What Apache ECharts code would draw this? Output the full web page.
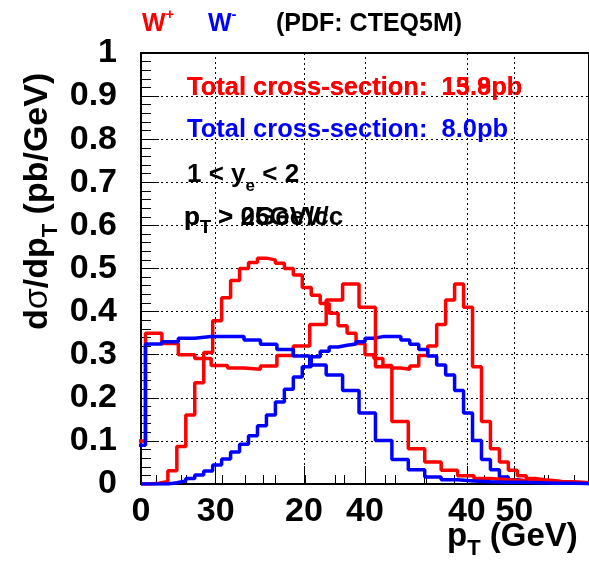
<!DOCTYPE html>
<html>
<head>
<meta charset="utf-8">
<script src="https://cdn.jsdelivr.net/npm/echarts@6/dist/echarts.min.js"></script>
<style>
html,body{margin:0;padding:0;background:#fff;}
#chart{width:589px;height:571px;}
</style>
</head>
<body>
<div id="chart"></div>
<script>
// Histogram: 50 bins of 1.1 GeV covering 0..55 GeV (lepton pT)
const binWidth = 1.1;
// W+ (red) dσ/dpT per bin, full pT range (pad with 0..55 axis)
const wPlus = [0, 0.002, 0.006, 0.031, 0.087, 0.160, 0.235, 0.305, 0.379, 0.432,
  0.472, 0.500, 0.514, 0.524, 0.520, 0.512, 0.500, 0.485, 0.456, 0.438,
  0.419, 0.396, 0.367, 0.350, 0.326, 0.300, 0.291, 0.275, 0.269, 0.266,
  0.274, 0.298, 0.320, 0.370, 0.427, 0.464, 0.410, 0.272, 0.145, 0.082,
  0.051, 0.032, 0.019, 0.013, 0.010, 0.008, 0.006, 0.005, 0.004, 0.003];
// W- (blue)
const wMinus = [0, 0, 0, 0.003, 0.007, 0.013, 0.021, 0.030, 0.044, 0.058,
  0.074, 0.092, 0.112, 0.135, 0.160, 0.190, 0.220, 0.248, 0.272, 0.295,
  0.308, 0.318, 0.322, 0.325, 0.330, 0.338, 0.342, 0.342, 0.342, 0.334,
  0.324, 0.312, 0.297, 0.276, 0.253, 0.217, 0.165, 0.101, 0.057, 0.033,
  0.016, 0.010, 0.007, 0.005, 0.004, 0.004, 0.003, 0.002, 0.002, 0.001];
// pT > 25 GeV version (second pad, axis 25..55): first bin only partially above the cut
const cutFirstBin = 22;
const cutBinWPlus = 0.10;
const cutBinWMinus = 0.09;

// axis tick values
const pad1Range = [0, 55];
const pad1Interval = 20;
const pad1MinorTicks = [5, 10, 15, 25, 30, 35, 45, 50];
const pad2Range = [25, 55];
const pad2MajorTicks = [30, 40, 50];
const pad2MinorTicks = [26, 28, 32, 34, 36, 38, 42, 44, 46, 48, 52, 54];
const yRange = [0, 1];
const yInterval = 0.1;

const RED = '#ff0000', BLUE = '#0000ff', BLACK = '#000000';
const FONT = '"Liberation Sans", Arial, Helvetica, sans-serif';

function stepPoints(vals, firstBin, firstVal) {
  const pts = [];
  for (let k = firstBin; k < vals.length; k++) {
    const v = (k === firstBin && firstVal !== undefined) ? firstVal : vals[k];
    const lo = +(k * binWidth).toFixed(4), hi = +((k + 1) * binWidth).toFixed(4);
    pts.push([lo, v], [hi, v]);
  }
  return pts;
}

// rich text helper (graphic texts with sub/superscripts)
const mctx = document.createElement('canvas').getContext('2d');
function runs(x, y, parts, rotation, z) {
  let cx = 0;
  const children = [];
  parts.forEach(p => {
    const font = (p.w || 'bold') + ' ' + p.s + 'px ' + (p.f || FONT);
    mctx.font = font;
    const wdt = mctx.measureText(p.t).width;
    children.push({
      type: 'text', x: cx, y: (p.dy || 0) - 0.35 * p.s,
      style: { text: p.t, font: font, fill: p.c || BLACK, align: 'left', verticalAlign: 'middle' }
    });
    cx += wdt + (p.gap || 0);
  });
  return { type: 'group', x: x, y: y, rotation: rotation || 0, z: z || 100, children: children };
}

const dotted = { color: BLACK, type: [2, 3], width: 1 };
const labelFont = { fontSize: 34, fontWeight: 'bold', fontFamily: FONT, color: BLACK };

const chart = echarts.init(document.getElementById('chart'), null, { renderer: 'canvas' });

const option = {
  animation: false,
  backgroundColor: '#ffffff',
  grid: { left: 141, top: 53, right: -1, bottom: 87, show: true, borderColor: BLACK, borderWidth: 2, backgroundColor: 'transparent' },
  xAxis: [
    { // pad 1 (0..55)
      type: 'value', min: pad1Range[0], max: pad1Range[1], interval: pad1Interval, position: 'bottom',
      axisLine: { show: true, onZero: false, lineStyle: { color: BLACK, width: 2 } },
      axisTick: { show: true, inside: true, length: 18, lineStyle: { color: BLACK, width: 1 } },
      minorTick: { show: false },
      axisLabel: Object.assign({ margin: 11, showMaxLabel: false, formatter: v => (v === pad1Range[1] ? '' : String(v)) }, labelFont),
      splitLine: { show: true, lineStyle: dotted }
    },
    { // pad 2 (25..55)
      type: 'value', min: pad2Range[0], max: pad2Range[1], position: 'bottom',
      axisLine: { show: false },
      axisTick: { show: true, inside: true, length: 18, customValues: pad2MajorTicks, lineStyle: { color: BLACK, width: 1 } },
      axisLabel: Object.assign({ margin: 11, customValues: pad2MajorTicks }, labelFont),
      splitLine: { show: false }
    },
    { // pad 1 minor ticks
      type: 'value', min: pad1Range[0], max: pad1Range[1], position: 'bottom',
      axisLine: { show: false },
      axisTick: { show: true, inside: true, length: 9, customValues: pad1MinorTicks, lineStyle: { color: BLACK, width: 1 } },
      axisLabel: { show: false }, splitLine: { show: false }
    },
    { // pad 2 minor ticks
      type: 'value', min: pad2Range[0], max: pad2Range[1], position: 'bottom',
      axisLine: { show: false },
      axisTick: { show: true, inside: true, length: 9, customValues: pad2MinorTicks, lineStyle: { color: BLACK, width: 1 } },
      axisLabel: { show: false }, splitLine: { show: false }
    }
  ],
  yAxis: {
    type: 'value', min: yRange[0], max: yRange[1], interval: yInterval,
    axisLine: { show: true, lineStyle: { color: BLACK, width: 2 } },
    axisTick: { show: true, inside: true, length: 18, lineStyle: { color: BLACK, width: 1 } },
    minorTick: { show: true, splitNumber: 5, length: 10, lineStyle: { color: BLACK, width: 1 } },
    axisLabel: Object.assign({ margin: 24 }, labelFont),
    splitLine: { show: true, lineStyle: dotted }
  },
  series: [
    { name: 'W+ (pT>0)', type: 'line', xAxisIndex: 0, data: stepPoints(wPlus, 0), symbol: 'none', clip: true,
      lineStyle: { color: RED, width: 3.5 }, itemStyle: { color: RED }, z: 3 },
    { name: 'W- (pT>0)', type: 'line', xAxisIndex: 0, data: stepPoints(wMinus, 0), symbol: 'none', clip: true,
      lineStyle: { color: BLUE, width: 3.5 }, itemStyle: { color: BLUE }, z: 4 },
    { name: 'W+ (pT>25)', type: 'line', xAxisIndex: 1, data: stepPoints(wPlus, cutFirstBin, cutBinWPlus), symbol: 'none', clip: true,
      lineStyle: { color: RED, width: 3.5 }, itemStyle: { color: RED }, z: 5,
      markLine: { silent: true, symbol: ['none', 'none'], label: { show: false }, lineStyle: dotted,
        data: pad2MajorTicks.map(v => ({ xAxis: v })) } },
    { name: 'W- (pT>25)', type: 'line', xAxisIndex: 1, data: stepPoints(wMinus, cutFirstBin, cutBinWMinus), symbol: 'none', clip: true,
      lineStyle: { color: BLUE, width: 3.5 }, itemStyle: { color: BLUE }, z: 6 }
  ],
  graphic: [
    runs(142, 33, [{ t: 'W', s: 25, c: RED }, { t: '+', s: 15, dy: -13, c: RED }]),
    runs(208, 33, [{ t: 'W', s: 25, c: BLUE }, { t: '-', s: 15, dy: -13, c: BLUE }]),
    runs(276, 33, [{ t: '(PDF: CTEQ5M)', s: 25 }]),
    runs(187, 97, [{ t: 'Total cross-section:  15.9pb', s: 25.5, c: RED }]),
    runs(187, 97, [{ t: 'Total cross-section:  13.8pb', s: 25.5, c: RED }]),
    runs(187, 139, [{ t: 'Total cross-section:  8.0pb', s: 25.5, c: BLUE }]),
    runs(187, 184, [{ t: '1 < y', s: 26 }, { t: 'e', s: 17, dy: 8 }, { t: ' < 2', s: 26 }]),
    runs(184, 227, [{ t: 'p', s: 26 }, { t: 'T', s: 18, dy: 7 }, { t: ' > 25GeV/c', s: 26 }]),
    runs(184, 227, [{ t: 'p', s: 26 }, { t: 'T', s: 18, dy: 7 }, { t: ' > 0GeV/c', s: 26 }]),
    runs(447, 548, [{ t: 'p', s: 33 }, { t: 'T', s: 22, dy: 9 }, { t: ' (GeV)', s: 33 }]),
    runs(50, 330, [{ t: 'd', s: 34 }, { t: 'σ', s: 34, w: 'normal' }, { t: '/dp', s: 34 }, { t: 'T', s: 22, dy: 9 }, { t: ' (pb/GeV)', s: 34 }], Math.PI / 2)
  ]
};
chart.setOption(option);
</script>
</body>
</html>
